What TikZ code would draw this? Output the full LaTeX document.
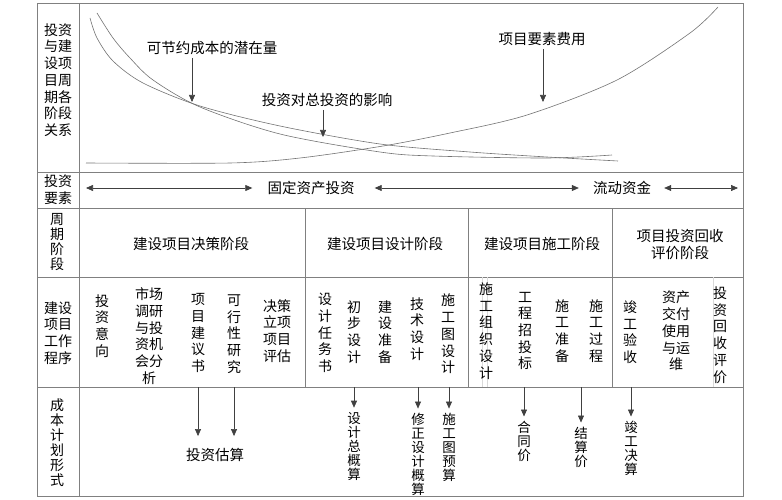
\documentclass[tikz,border=0pt]{standalone}
\usepackage{fontspec}
\setmainfont{Noto Sans CJK SC}
\usetikzlibrary{arrows.meta}

\begin{document}
\begin{tikzpicture}[x=1pt,y=-1pt,
	frame/.style={draw=black!50, line width=0.8pt},
	curve/.style={draw=black!55, line width=0.6pt},
	tip/.style={-{Triangle[length=7pt,width=6pt]}, draw=black!75, line width=0.6pt},
	dbl/.style={{Triangle[length=7pt,width=6pt]}-{Triangle[length=7pt,width=6pt]}, draw=black!75, line width=0.6pt},
	txt/.style={font=\fontsize{14.5}{17}\selectfont, inner sep=3pt, align=center},
	vcol/.style={font=\fontsize{14}{16.7}\selectfont, inner sep=2pt, align=center},
	vcost/.style={font=\fontsize{13.5}{14}\selectfont, inner sep=4pt, align=center}]
	\useasboundingbox (0,0) rectangle (782,500);

	\draw[frame] (37,3) rectangle (743,496);
	\draw[frame] (79,3) -- (79,496);
	\foreach \y in {172,208,277,387} \draw[frame] (37,\y) -- (743,\y);
	\foreach \x in {305,468,612} \draw[frame] (\x,208) -- (\x,387);
	\draw[black!15] (482,277) -- (482,387) (487,277) -- (487,387) (713,277) -- (713,387);

	\draw[curve] plot[smooth,tension=0.5] coordinates {(90,18) (97,38) (113,61) (143,83) (200,106) (280,126) (380,144) (470,152) (547,157) (618,161)};
	\draw[curve] plot[smooth,tension=0.5] coordinates {(97,13) (113,38) (130,58) (153,80) (200,107) (280,134) (380,152) (433,156) (547,158) (612,155)};
	\draw[curve] plot[smooth,tension=0.5] coordinates {(86,163) (230,163) (300,158) (383,146) (450,133) (527,115) (617,80) (690,33) (718,7)};

	\node[vcol] (relation) at (58,80) {投资\\与建\\设项\\目周\\期各\\阶段\\关系};
	\node[vcol] (factor) at (58,190) {投资\\要素};
	\node[vcol, font=\fontsize{14}{15}\selectfont] (period) at (57,242) {周\\期\\阶\\段};
	\node[vcol] (procedure) at (58,333) {建设\\项目\\工作\\程序};
	\node[vcol, font=\fontsize{14}{15}\selectfont] (costform) at (57,443) {成\\本\\计\\划\\形\\式};

	\node[txt] (saving) at (212,48) {可节约成本的潜在量};
	\node[txt] (influence) at (327,100) {投资对总投资的影响};
	\node[txt] (elemcost) at (542,39) {项目要素费用};
	\coordinate (p1) at (192,102);
	\coordinate (p2) at (323,137);
	\coordinate (p3) at (543,102);
	\draw[tip] (saving.south -| p1) -- (p1);
	\draw[tip] (influence.south -| p2) -- (p2);
	\draw[tip] (elemcost.south -| p3) -- (p3);

	\node[txt] (fixed) at (311,188) {固定资产投资};
	\node[txt] (current) at (622,188) {流动资金};
	\coordinate (r2a) at (86,188);
	\coordinate (r2b) at (738,188);
	\draw[dbl, shorten >=12pt] (r2a) -- (fixed.west);
	\draw[dbl, shorten <=17pt, shorten >=11pt] (fixed.east) -- (current.west);
	\draw[dbl, shorten <=10pt] (current.east) -- (r2b);

	\node[txt] (decide) at (191,244) {建设项目决策阶段};
	\node[txt] (design) at (385,244) {建设项目设计阶段};
	\node[txt] (build) at (542,244) {建设项目施工阶段};
	\node[txt] (recover) at (680,245) {项目投资回收\\评价阶段};

	\node[vcol] (intent) at (102,326) {投\\资\\意\\向};
	\node[vcol] (market) at (149,336) {市场\\调研\\与投\\资机\\会分\\析};
	\node[vcol] (proposal) at (198,333) {项\\目\\建\\议\\书};
	\node[vcol] (feasible) at (234,334) {可\\行\\性\\研\\究};
	\node[vcol] (approve) at (277,331) {决策\\立项\\项目\\评估};
	\node[vcol] (task) at (325,333) {设\\计\\任\\务\\书};
	\node[vcol] (prelim) at (354,332) {初\\步\\设\\计};
	\node[vcol] (prepare) at (385,332) {建\\设\\准\\备};
	\node[vcol] (tech) at (417,329) {技\\术\\设\\计};
	\node[vcol] (drawing) at (448,334) {施\\工\\图\\设\\计};
	\node[vcol] (org) at (486,331) {施\\工\\组\\织\\设\\计};
	\node[vcol] (tender) at (525,331) {工\\程\\招\\投\\标};
	\node[vcol] (buildprep) at (562,331) {施\\工\\准\\备};
	\node[vcol] (process) at (596,331) {施\\工\\过\\程};
	\node[vcol] (accept) at (630,332) {竣\\工\\验\\收};
	\node[vcol] (handover) at (676,331) {资产\\交付\\使用\\与运\\维};
	\node[vcol] (evaluate) at (720,335) {投\\资\\回\\收\\评\\价};

	\coordinate (r5) at (79,387);
	\node[txt] (estimate) at (215,455) {投资估算};
	\node[vcost] (budget) at (354,446) {设\\计\\总\\概\\算};
	\node[vcost] (revbudget) at (418,454) {修\\正\\设\\计\\概\\算};
	\node[vcost] (drawbudget) at (449,447) {施\\工\\图\\预\\算};
	\node[vcost] (contract) at (524,441) {合\\同\\价};
	\node[vcost] (settle) at (581,447) {结\\算\\价};
	\node[vcost] (final) at (631,448) {竣\\工\\决\\算};
	\draw[tip, shorten >=9pt] (proposal |- r5) -- (proposal |- estimate.north);
	\draw[tip, shorten >=9pt] (feasible |- r5) -- (feasible |- estimate.north);
	\foreach \n in {budget,revbudget,drawbudget,contract,settle,final}
		\draw[tip] (\n |- r5) -- (\n.north);
\end{tikzpicture}
\end{document}
